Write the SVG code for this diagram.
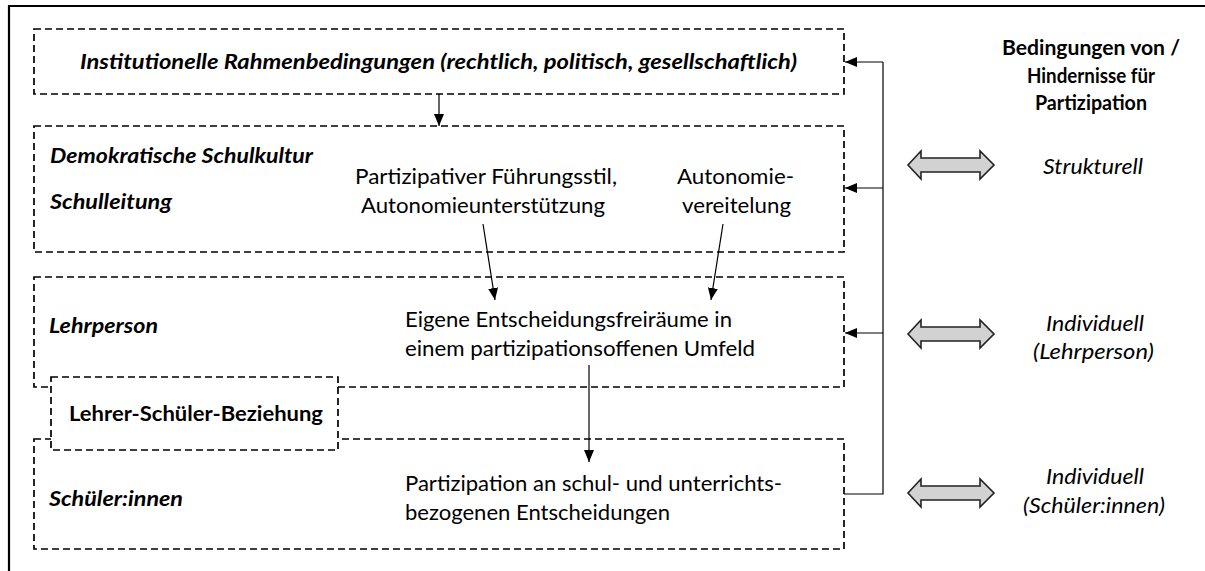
<svg xmlns="http://www.w3.org/2000/svg" width="1205" height="571" viewBox="0 0 1205 571">
<defs>
<style>
.frame{stroke:#000;stroke-width:2.2;fill:none}
.box{fill:none;stroke:#000;stroke-width:1.7;stroke-dasharray:7 4}
.boxw{fill:#fff;stroke:#000;stroke-width:1.7;stroke-dasharray:7 4}
.con{stroke:#000;stroke-width:1.2;fill:none}
.t{font-family:Lato,"Open Sans","Liberation Sans",sans-serif;font-size:21px;fill:#000}
.bi{font-weight:bold;font-style:italic}
.b{font-weight:bold}
.i{font-style:italic}
.dbl{fill:#d2d2d2;stroke:#222;stroke-width:1.6;stroke-linejoin:miter}
</style>
<marker id="ah" viewBox="0 0 12 10" refX="12" refY="5" markerWidth="12" markerHeight="10" markerUnits="userSpaceOnUse" orient="auto">
<path d="M0,0 L12,5 L0,10 z" fill="#000"/>
</marker>
</defs>
<rect width="1205" height="571" fill="#fff"/>
<path class="frame" d="M9,571 L9,6 L1205,6"/>

<g id="n-institutionell">
<rect class="box" x="34" y="29" width="810" height="65"/>
<text class="t bi" x="80" y="69" textLength="717" lengthAdjust="spacingAndGlyphs">Institutionelle Rahmenbedingungen (rechtlich, politisch, gesellschaftlich)</text>
</g>

<g id="n-schulkultur">
<rect class="box" x="34" y="126" width="810" height="126"/>
<text class="t bi" x="50" y="163" textLength="263" lengthAdjust="spacingAndGlyphs">Demokratische Schulkultur</text>
<text class="t bi" x="50" y="209" textLength="122" lengthAdjust="spacingAndGlyphs">Schulleitung</text>
<text class="t" x="355" y="184" textLength="262" lengthAdjust="spacingAndGlyphs">Partizipativer Führungsstil,</text>
<text class="t" x="361" y="213" textLength="244" lengthAdjust="spacingAndGlyphs">Autonomieunterstützung</text>
<text class="t" x="677" y="184" textLength="117" lengthAdjust="spacingAndGlyphs">Autonomie-</text>
<text class="t" x="682" y="213" textLength="109" lengthAdjust="spacingAndGlyphs">vereitelung</text>
</g>

<g id="n-lehrperson">
<rect class="box" x="34" y="277" width="810" height="110"/>
<text class="t bi" x="49" y="333" textLength="109" lengthAdjust="spacingAndGlyphs">Lehrperson</text>
<text class="t" x="405" y="327" textLength="327" lengthAdjust="spacingAndGlyphs">Eigene Entscheidungsfreiräume in</text>
<text class="t" x="405" y="356" textLength="350" lengthAdjust="spacingAndGlyphs">einem partizipationsoffenen Umfeld</text>
</g>

<g id="n-schueler">
<rect class="box" x="34" y="439" width="810" height="110"/>
<text class="t bi" x="49" y="506" textLength="134" lengthAdjust="spacingAndGlyphs">Schüler:innen</text>
<text class="t" x="405" y="491" textLength="377" lengthAdjust="spacingAndGlyphs">Partizipation an schul- und unterrichts-</text>
<text class="t" x="405" y="520" textLength="265" lengthAdjust="spacingAndGlyphs">bezogenen Entscheidungen</text>
</g>

<g id="n-beziehung">
<rect class="boxw" x="51" y="377" width="287" height="73"/>
<text class="t b" x="69" y="421" textLength="254" lengthAdjust="spacingAndGlyphs">Lehrer-Schüler-Beziehung</text>
</g>

<g id="n-header">
<text class="t b" x="1002" y="55" textLength="178" lengthAdjust="spacingAndGlyphs">Bedingungen von /</text>
<text class="t b" x="1027" y="83" textLength="128" lengthAdjust="spacingAndGlyphs">Hindernisse für</text>
<text class="t b" x="1035" y="110" textLength="112" lengthAdjust="spacingAndGlyphs">Partizipation</text>
</g>

<g id="n-strukturell">
<path class="dbl" d="M908,165 L921,151 L921,158 L980,158 L980,151 L994,165 L980,179 L980,172 L921,172 L921,179 Z"/>
<text class="t i" x="1043" y="174" textLength="100" lengthAdjust="spacingAndGlyphs">Strukturell</text>
</g>

<g id="n-individuell-lehr">
<path class="dbl" d="M908,334 L921,320 L921,327 L980,327 L980,320 L994,334 L980,348 L980,341 L921,341 L921,348 Z"/>
<text class="t i" x="1046" y="331" textLength="98" lengthAdjust="spacingAndGlyphs">Individuell</text>
<text class="t i" x="1033" y="359" textLength="121" lengthAdjust="spacingAndGlyphs">(Lehrperson)</text>
</g>

<g id="n-individuell-schueler">
<path class="dbl" d="M908,493 L921,479 L921,486 L980,486 L980,479 L994,493 L980,507 L980,500 L921,500 L921,507 Z"/>
<text class="t i" x="1046" y="484" textLength="98" lengthAdjust="spacingAndGlyphs">Individuell</text>
<text class="t i" x="1023" y="513" textLength="142" lengthAdjust="spacingAndGlyphs">(Schüler:innen)</text>
</g>

<g id="connectors">
<line class="con" x1="439" y1="94" x2="439" y2="126" marker-end="url(#ah)"/>
<line class="con" x1="483" y1="224" x2="495" y2="300" marker-end="url(#ah)"/>
<line class="con" x1="723" y1="224" x2="711" y2="300" marker-end="url(#ah)"/>
<line class="con" x1="589" y1="365" x2="589" y2="462" marker-end="url(#ah)"/>
<path class="con" d="M844,494 L883,494 L883,62"/>
<line class="con" x1="883" y1="62" x2="845" y2="62" marker-end="url(#ah)"/>
<line class="con" x1="883" y1="188" x2="845" y2="188" marker-end="url(#ah)"/>
<line class="con" x1="883" y1="333" x2="845" y2="333" marker-end="url(#ah)"/>
</g>
</svg>
